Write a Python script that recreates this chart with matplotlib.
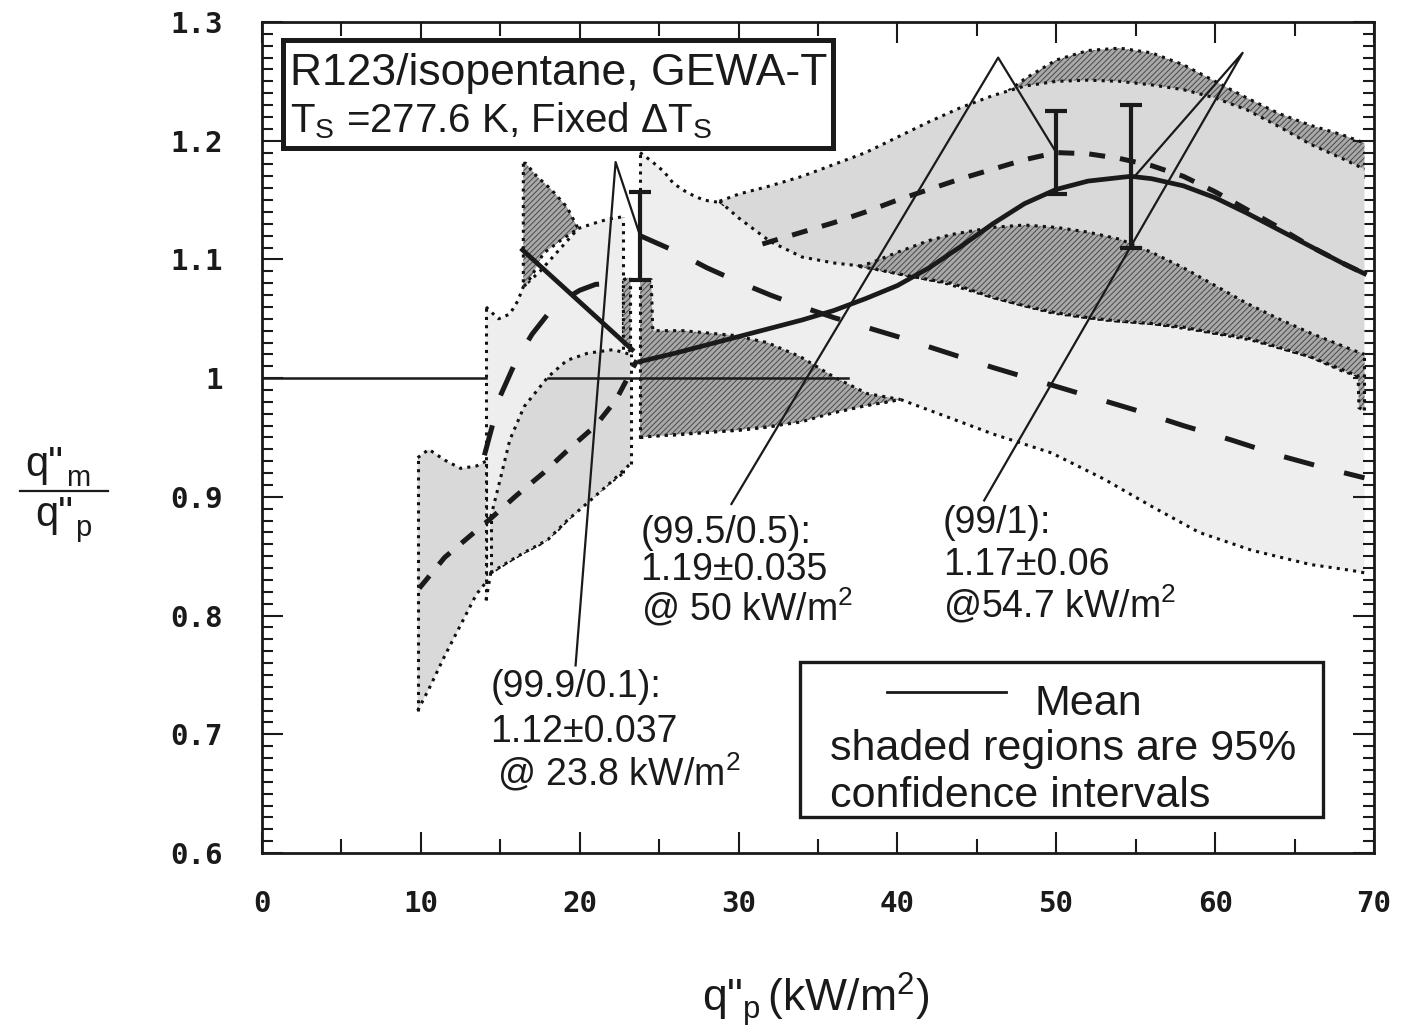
"""Relacion q''m/q''p vs flujo de calor: R123/isopentano en GEWA-T, bandas de confianza 95%."""
import numpy as np
import matplotlib
matplotlib.use("Agg")
import matplotlib.pyplot as plt
from matplotlib.patches import Rectangle
from matplotlib.lines import Line2D

# ---- curvas medias (flujo kW/m2, relacion) ----
m99_izq_x = [16.4, 23.3]
m99_izq_y = [1.108, 1.024]
m99_der_x = [23.8, 26, 28, 30, 32, 34, 36, 38, 40, 42, 44, 46, 48, 50, 52, 54,
             54.7, 56, 58, 60, 62, 64, 66, 68, 69.4]
m99_der_y = [1.014, 1.021, 1.028, 1.035, 1.042, 1.049, 1.057, 1.067, 1.078,
             1.093, 1.111, 1.130, 1.147, 1.159, 1.166, 1.169, 1.170, 1.168,
             1.162, 1.152, 1.139, 1.125, 1.111, 1.097, 1.088]

m995_izq_x = [9.9, 11.5, 13.0, 14.5, 16.0, 17.7, 19.3, 21.0, 22.3, 23.6]
m995_izq_y = [0.823, 0.849, 0.866, 0.883, 0.901, 0.920, 0.940, 0.960, 0.982, 1.015]
m995_der_x = [31.5, 34, 36, 38, 40, 42, 44, 46, 48, 50, 52, 54, 56, 58, 60, 62,
              64, 66, 68, 69.4]
m995_der_y = [1.113, 1.123, 1.131, 1.140, 1.150, 1.159, 1.168, 1.176, 1.184,
              1.190, 1.189, 1.185, 1.179, 1.170, 1.157, 1.142, 1.127, 1.111,
              1.097, 1.088]

m999_izq_x = [14.0, 15.0, 16.0, 17.0, 18.0, 19.0, 20.0, 21.0, 22.4]
m999_izq_y = [0.935, 0.985, 1.015, 1.037, 1.054, 1.066, 1.074, 1.079, 1.080]
m999_der_x = [23.8, 26, 28, 30, 32, 34, 36, 38, 40, 43, 46, 49, 52, 55, 58, 61,
              64, 67, 69.4]
m999_der_y = [1.120, 1.107, 1.093, 1.081, 1.070, 1.060, 1.051, 1.043, 1.035,
              1.022, 1.009, 0.997, 0.985, 0.973, 0.960, 0.948, 0.935, 0.924, 0.916]

# ---- barras de error en los maximos ----
barra_x = [23.8, 50.0, 54.7]
barra_y = [1.12, 1.19, 1.17]
barra_err = [0.037, 0.035, 0.06]

# ---- bandas de confianza (x, limite inferior, limite superior) ----
bA_x = [9.8, 10.5, 11.5, 12.5, 13.5, 14.1]
bA_hi = [0.933, 0.940, 0.931, 0.924, 0.926, 0.930]
bA_lo = [0.720, 0.738, 0.766, 0.792, 0.818, 0.828]

bCi_x = [14.1, 14.4, 14.9, 15.6, 16.1, 16.45, 17.5, 18.7, 19.9, 20.8, 21.8, 22.75]
bCi_hi = [1.060, 1.056, 1.050, 1.054, 1.065, 1.077, 1.090, 1.108, 1.126, 1.130,
          1.134, 1.136]
bCi_lo = [0.813, 0.836, 0.840, 0.846, 0.850, 0.853, 0.860, 0.873, 0.890, 0.900,
          0.911, 0.920]

bB_x = [14.4, 15.0, 15.6, 16.5, 18.0, 19.2, 20.5, 22.1, 23.2]
bB_hi = [0.883, 0.915, 0.948, 0.976, 1.001, 1.015, 1.021, 1.024, 1.020]
bB_lo = [0.836, 0.841, 0.846, 0.853, 0.864, 0.880, 0.895, 0.914, 0.928]

tri_x = [16.45, 16.6, 17.3, 18.2, 19.2, 19.9, 18.8, 17.7, 17.1, 16.7, 16.45]
tri_y = [1.181, 1.181, 1.170, 1.159, 1.144, 1.126, 1.116, 1.105, 1.089, 1.080, 1.077]

astilla_x = [22.75, 23.2, 23.2, 22.75]
astilla_y = [1.083, 1.085, 1.022, 1.030]

bCd_x = [23.8, 24.5, 25.3, 25.9, 26.8, 27.8, 28.8, 30.0, 32.0, 34.0, 36.0, 38.0,
         40.2, 43.0, 46.0, 49.7, 53.0, 56.0, 59.0, 62.3, 66.0, 68.6, 69.4]
bCd_hi = [1.190, 1.183, 1.174, 1.164, 1.156, 1.150, 1.148, 1.140, 1.125, 1.110,
          1.100, 1.094, 1.088, 1.080, 1.068, 1.055, 1.049, 1.046, 1.040, 1.032,
          1.018, 1.004, 1.000]
bCd_lo = [0.950, 0.951, 0.952, 0.952, 0.953, 0.954, 0.955, 0.956, 0.959, 0.965,
          0.971, 0.977, 0.982, 0.968, 0.953, 0.937, 0.915, 0.892, 0.870, 0.855,
          0.843, 0.838, 0.836]

d2a_x = [23.8, 24.5, 24.6, 26.5, 29.7, 31.8, 33.9, 36.0, 38.1, 40.2]
d2a_hi = [1.083, 1.083, 1.040, 1.040, 1.036, 1.030, 1.018, 1.001, 0.987, 0.982]
d2a_lo = [0.950, 0.951, 0.951, 0.953, 0.956, 0.959, 0.963, 0.971, 0.977, 0.982]

l3_x = [28.8, 30, 32, 34, 36, 38, 40, 42, 44, 46, 48, 50, 52, 54, 56, 58, 60, 62,
        64, 66, 68, 69.4]
l3_hi = [1.149, 1.155, 1.162, 1.170, 1.180, 1.190, 1.203, 1.216, 1.228, 1.238,
         1.246, 1.250, 1.251, 1.250, 1.247, 1.243, 1.236, 1.226, 1.212, 1.197,
         1.185, 1.176]
l3_lo = [1.149, 1.135, 1.115, 1.102, 1.097, 1.094, 1.088, 1.083, 1.078, 1.068,
         1.061, 1.055, 1.051, 1.048, 1.046, 1.043, 1.038, 1.034, 1.026, 1.018,
         1.006, 1.000]

sup_x = [47, 48, 50, 52, 54, 56, 58, 60, 62, 64, 66, 68, 69.4]
sup_hi = [1.242, 1.252, 1.268, 1.276, 1.278, 1.274, 1.264, 1.250, 1.236, 1.223,
          1.213, 1.205, 1.198]
sup_lo = [1.240, 1.240, 1.240, 1.240, 1.240, 1.238, 1.234, 1.228, 1.218, 1.204,
          1.189, 1.178, 1.168]

d2b_x = [37.6, 38.5, 40, 42, 43.4, 46, 48, 50, 52, 54, 56, 58, 60, 62, 64, 66,
         68.6, 69.0, 69.05, 69.4]
d2b_hi = [1.094, 1.098, 1.106, 1.116, 1.121, 1.127, 1.129, 1.127, 1.123, 1.117,
          1.106, 1.093, 1.078, 1.063, 1.050, 1.038, 1.024, 1.022, 1.022, 1.020]
d2b_lo = [1.094, 1.092, 1.088, 1.083, 1.080, 1.068, 1.061, 1.055, 1.051, 1.048,
          1.046, 1.043, 1.038, 1.034, 1.026, 1.018, 1.004, 1.002, 0.975, 0.973]

# ---- lineas guia de las etiquetas ----
guia_999_x = [19.74, 22.26, 23.8]
guia_999_y = [0.758, 1.182, 1.12]
guia_995_x = [29.55, 46.34, 50.0]
guia_995_y = [0.894, 1.270, 1.19]
guia_99_x = [45.46, 61.73, 55.0]
guia_99_y = [0.897, 1.274, 1.171]

ref_tramos = [(0.0, 14.1), (18.0, 36.9)]   # linea q''m/q''p = 1

ytick_vals = [0.6, 0.7, 0.8, 0.9, 1.0, 1.1, 1.2, 1.3]
ytick_lbls = ["0.6", "0.7", "0.8", "0.9", "1", "1.1", "1.2", "1.3"]
xtick_vals = [0, 10, 20, 30, 40, 50, 60, 70]

C_CLARO = "#d9d9d9"
C_PALIDO = "#eeeeee"
C_OSCURO = "#a9a9a9"
C_RAYA = "#4a4a4a"
NEGRO = "#1a1a1a"

plt.rcParams["font.family"] = ["Liberation Sans", "DejaVu Sans"]
plt.rcParams["mathtext.fontset"] = "custom"
plt.rcParams["mathtext.rm"] = "Liberation Sans"
plt.rcParams["mathtext.it"] = "Liberation Sans:italic"
plt.rcParams["mathtext.bf"] = "Liberation Sans:bold"
plt.rcParams["hatch.linewidth"] = 0.7
plt.rcParams["hatch.color"] = C_RAYA

fig = plt.figure(figsize=(14.06, 10.34), dpi=100)
ax = fig.add_axes([262 / 1406, 181 / 1034, 1112 / 1406, 831 / 1034])
ax.set_xlim(0, 70)
ax.set_ylim(0.6, 1.3)

PUNTOS = (0, (1.0, 1.7))


def _borde(xs, ys, z):
    ax.plot(xs, ys, color="#111111", lw=2.2, ls=PUNTOS, zorder=z + 0.05)


def banda(x, lo, hi, color, rayada=False, z=1, bordes=(True, True)):
    px = list(x) + list(x)[::-1]
    py = list(hi) + list(lo)[::-1]
    ax.fill(px, py, facecolor=color, edgecolor=C_RAYA if rayada else "none",
            hatch="//////" if rayada else None, lw=0, zorder=z)
    _borde(x, hi, z)
    _borde(x, lo, z)
    if bordes[0]:
        _borde([x[0], x[0]], [lo[0], hi[0]], z)
    if bordes[1]:
        _borde([x[-1], x[-1]], [lo[-1], hi[-1]], z)


def poligono(xs, ys, z):
    ax.fill(xs, ys, facecolor=C_OSCURO, edgecolor=C_RAYA, hatch="//////",
            lw=0, zorder=z)
    _borde(list(xs) + [xs[0]], list(ys) + [ys[0]], z)


# bandas, de la mas palida a la mas oscura
banda(bCd_x, bCd_lo, bCd_hi, C_PALIDO, z=1, bordes=(True, False))
banda(bCi_x, bCi_lo, bCi_hi, C_PALIDO, z=1)
banda(bA_x, bA_lo, bA_hi, C_CLARO, z=1.2)
banda(sup_x, sup_lo, sup_hi, C_OSCURO, rayada=True, z=1.5, bordes=(False, False))
banda(l3_x, l3_lo, l3_hi, C_CLARO, z=2, bordes=(False, False))
banda(d2a_x, d2a_lo, d2a_hi, C_OSCURO, rayada=True, z=2.5, bordes=(True, False))
banda(d2b_x, d2b_lo, d2b_hi, C_OSCURO, rayada=True, z=2.5, bordes=(False, True))
banda(bB_x, bB_lo, bB_hi, C_CLARO, z=3)
poligono(tri_x, tri_y, z=3.5)
poligono(astilla_x, astilla_y, z=3.5)

# linea de referencia en 1
for a, b in ref_tramos:
    ax.plot([a, b], [1.0, 1.0], color=NEGRO, lw=1.8, zorder=5)

# curvas
LARGO = (0, (6.2, 6.2))
CORTO = (0, (3.2, 3.0))
ax.plot(m999_izq_x, m999_izq_y, color=NEGRO, lw=3.6, ls=LARGO, zorder=6)
ax.plot(m999_der_x, m999_der_y, color=NEGRO, lw=3.6, ls=LARGO, zorder=6)
ax.plot(m995_izq_x, m995_izq_y, color=NEGRO, lw=3.6, ls=CORTO, zorder=6)
ax.plot(m995_der_x, m995_der_y, color=NEGRO, lw=3.6, ls=CORTO, zorder=6)
ax.plot(m99_izq_x, m99_izq_y, color=NEGRO, lw=3.4, zorder=6)
ax.plot(m99_der_x, m99_der_y, color=NEGRO, lw=3.4, zorder=6)

ax.errorbar(barra_x, barra_y, yerr=barra_err, fmt="none", ecolor=NEGRO,
            elinewidth=3.0, capsize=8, capthick=3.0, zorder=7)

for gx, gy in [(guia_999_x, guia_999_y), (guia_995_x, guia_995_y),
               (guia_99_x, guia_99_y)]:
    ax.plot(gx, gy, color=NEGRO, lw=1.6, zorder=7)

# etiquetas de los maximos
FS_N = 27
notas = [
    (14.38, 0.7313, "(99.9/0.1):"), (14.38, 0.6934, "1.12±0.037"),
    (14.80, 0.6572, "@ 23.8 kW/m$^2$"),
    (23.83, 0.8611, "(99.5/0.5):"), (23.83, 0.8299, "1.19±0.035"),
    (23.83, 0.7962, "@ 50 kW/m$^2$"),
    (42.87, 0.8695, "(99/1):"), (42.87, 0.8341, "1.17±0.06"),
    (42.87, 0.7987, "@54.7 kW/m$^2$"),
]
for tx, ty, s in notas:
    ax.text(tx, ty, s, fontsize=FS_N, color=NEGRO, ha="left", va="baseline",
            zorder=8)

# recuadro del titulo
ax.add_patch(Rectangle((0.0189, 0.8484), 0.4946, 0.1299, transform=ax.transAxes,
                       facecolor="white", edgecolor=NEGRO, lw=3.6, zorder=9))
ax.text(0.0252, 0.9242, "R123/isopentane, GEWA-T", transform=ax.transAxes,
        fontsize=32, color=NEGRO, va="baseline", zorder=10)
ax.text(0.0252, 0.8676, r"T$_\mathrm{S}$ =277.6 K, Fixed ΔT$_\mathrm{S}$",
        transform=ax.transAxes, fontsize=29, color=NEGRO, va="baseline", zorder=10)

# leyenda
ax.add_patch(Rectangle((0.4838, 0.0433), 0.4703, 0.1865, transform=ax.transAxes,
                       facecolor="white", edgecolor=NEGRO, lw=2.4, zorder=9))
ax.add_line(Line2D([0.562, 0.669], [0.1937, 0.1937], transform=ax.transAxes,
                   color=NEGRO, lw=2.0, zorder=10))
ax.text(0.695, 0.1661, "Mean", transform=ax.transAxes, fontsize=31,
        color=NEGRO, va="baseline", zorder=10)
ax.text(0.5108, 0.1119, "shaded regions are 95%", transform=ax.transAxes,
        fontsize=31, color=NEGRO, va="baseline", zorder=10)
ax.text(0.5108, 0.0554, "confidence intervals", transform=ax.transAxes,
        fontsize=31, color=NEGRO, va="baseline", zorder=10)

# ejes y marcas
ax.set_xticks(xtick_vals)
ax.set_xticks(np.arange(5, 70, 10), minor=True)
ax.set_yticks(ytick_vals)
ax.set_yticks(np.arange(0.6, 1.3, 0.01), minor=True)
ax.set_xticklabels([str(v) for v in xtick_vals], fontfamily="DejaVu Sans Mono",
                   fontsize=21, fontweight="bold", color=NEGRO)
ax.set_yticklabels(ytick_lbls, fontfamily="DejaVu Sans Mono", fontsize=21,
                   fontweight="bold", color=NEGRO)
ax.tick_params(which="both", direction="in", top=True, right=True, width=1.5,
               color=NEGRO)
ax.tick_params(which="major", length=15)
ax.tick_params(axis="y", which="minor", length=8)
ax.tick_params(axis="x", which="minor", length=10)
ax.tick_params(axis="x", which="major", pad=27)
ax.tick_params(axis="y", which="major", pad=28)
for s in ax.spines.values():
    s.set_linewidth(2.0)
    s.set_color(NEGRO)
    s.set_zorder(11)

# titulo del eje y como fraccion q''m / q''p
fig.text(25 / 1406, 1 - 476 / 1034, 'q"', fontsize=30, color=NEGRO, va="baseline")
fig.text(66 / 1406, 1 - 486 / 1034, "m", fontsize=21, color=NEGRO, va="baseline")
fig.add_artist(Line2D([20 / 1406, 108 / 1406], [1 - 491 / 1034] * 2,
                      color=NEGRO, lw=1.6))
fig.text(35 / 1406, 1 - 526 / 1034, 'q"', fontsize=30, color=NEGRO, va="baseline")
fig.text(75 / 1406, 1 - 536 / 1034, "p", fontsize=21, color=NEGRO, va="baseline")

fig.text(816 / 1406, 1 - 1012 / 1034, r'q"$_\mathrm{p}\,$(kW/m$^2$)', fontsize=32,
         color=NEGRO, ha="center", va="baseline")

fig.savefig("out.png", dpi=100, facecolor="white")
